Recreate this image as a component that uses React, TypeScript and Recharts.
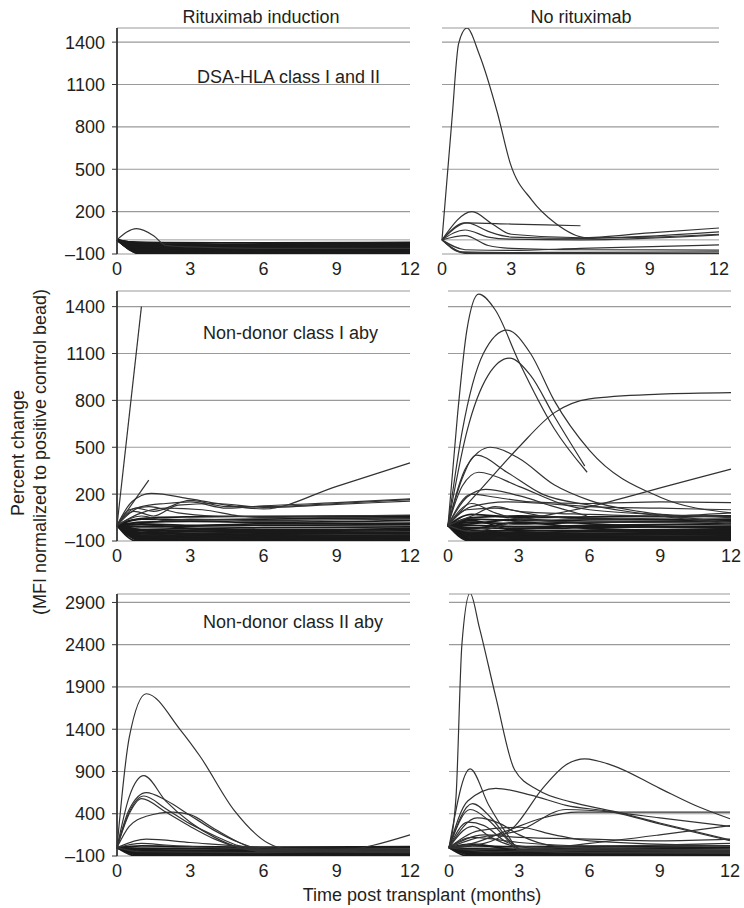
import React from 'react';
import { LineChart, Line, XAxis, YAxis, CartesianGrid, ReferenceLine } from 'recharts';

type Pt = [number, number];

const monthTicks = [0, 3, 6, 9, 12];
const ticksClassI = [-100, 200, 500, 800, 1100, 1400];
const ticksClassII = [-100, 400, 900, 1400, 1900, 2400, 2900];

// DSA-HLA class I and II, rituximab induction
const dsaRitux: Pt[][] = [
  [[0, 0], [0.8, 80], [1.5, 30], [2, -40], [3, -50], [6, -60], [12, -60]],
];
const dsaRituxBand: Pt[][] = [
  [[0, 0], [1, -30], [3, -35], [6, -30], [12, -25]],
  [[0, 0], [1, -50], [3, -45], [6, -50], [12, -40]],
  [[0, 0], [1, -60], [3, -55], [6, -60], [12, -55]],
  [[0, 0], [1, -70], [3, -65], [6, -70], [12, -65]],
  [[0, 0], [1, -80], [3, -75], [6, -75], [12, -70]],
  [[0, 0], [1, -90], [3, -85], [6, -85], [12, -80]],
  [[0, 0], [1, -95], [3, -92], [6, -95], [12, -90]],
  [[0, 0], [1, -98], [3, -98], [6, -97], [12, -96]],
  [[0, 0], [1, -85], [3, -90], [6, -80], [12, -85]],
  [[0, 0], [1, -75], [3, -80], [6, -88], [12, -92]],
  [[0, 0], [1, -65], [3, -70], [6, -78], [12, -75]],
  [[0, 0], [1, -55], [3, -62], [6, -65], [12, -68]],
  [[0, 0], [1, -45], [3, -52], [6, -55], [12, -50]],
  [[0, 0], [1, -40], [3, -40], [6, -42], [12, -45]],
  [[0, 0], [0.7, -20], [2, -30], [6, -35], [12, -30]],
  [[0, 0], [1, -100], [3, -100], [6, -100], [12, -100]],
  [[0, 0], [1, -88], [3, -94], [6, -92], [12, -98]],
  [[0, 0], [1, -72], [3, -86], [6, -90], [12, -88]],
  [[0, 0], [1, -62], [3, -78], [6, -82], [12, -78]],
  [[0, 0], [1, -92], [3, -70], [6, -66], [12, -60]],
  [[0, 0], [0.6, -15], [2, -20], [6, -22], [12, -18]],
  [[0, 0], [1, -35], [3, -28], [6, -45], [12, -35]],
];

// DSA-HLA class I and II, no rituximab
const dsaNoRitux: Pt[][] = [
  [[0, 0], [0.43, 850], [0.72, 1390], [1.08, 1500], [1.6, 1320], [2.4, 900], [2.95, 545], [3.9, 280], [4.9, 120], [6.3, 15], [9, 20], [12, 40]],
  [[0, 0], [1.3, 200], [2.2, 110], [3, 40], [6, 15], [9, 50], [12, 84]],
  [[0, 0], [1, 120], [3, 112], [6, 100]],
  [[0, 0], [1.1, 120], [2, 60], [3, 20], [6, 10], [12, 56]],
  [[0, 0], [1, 70], [2, 20], [3, 5], [6, 0], [12, 35]],
  [[0, 0], [1, 30], [2, -40], [3, -60], [6, -70], [12, -72]],
  [[0, 0], [1, -70], [3, -75], [6, -60], [12, -36]],
  [[0, 0], [1, -90], [3, -95], [6, -95], [12, -95]],
  [[0, 0], [0.8, -85], [3, -90], [6, -88], [12, -85]],
  [[0, 0], [1, -95], [3, -98], [6, -99], [12, -99]],
];

// Non-donor class I antibody, rituximab induction
const c1Ritux: Pt[][] = [
  [[0, 0], [1, 1400]],
  [[0, 0], [1.3, 290]],
  [[0, 0], [0.6, 150], [1.4, 205], [3, 170], [4.5, 130], [6, 105], [9, 250], [12, 400]],
  [[0, 0], [0.8, 110], [1.5, 90], [3, 160], [4.5, 120], [6, 120], [9, 140], [12, 165]],
  [[0, 0], [1, 120], [2, 140], [3, 150], [4.5, 110], [6, 125], [9, 145], [12, 170]],
  [[0, 0], [0.7, 90], [1.5, 60], [2.5, 130], [4, 140], [6, 115], [9, 135], [12, 155]],
  [[0, 0], [1, 80], [2, 110], [3.5, 100], [5, 60], [6, 50], [9, 60], [12, 65]],
  [[0, 0], [0.5, 100], [1.3, 120], [2.5, 80], [4, 60], [6, 55], [9, 50], [12, 45]],
  [[0, 0], [1, 60], [2, 30], [3, 40], [6, 30], [9, 35], [12, 40]],
];
const c1RituxBand: Pt[][] = [
  [[0, 0], [1, 40], [3, 35], [6, 40], [12, 50]],
  [[0, 0], [1, 20], [3, 25], [6, 20], [12, 30]],
  [[0, 0], [1, 10], [3, 0], [6, 10], [12, 15]],
  [[0, 0], [1, -10], [3, -5], [6, 0], [12, 5]],
  [[0, 0], [1, -25], [3, -20], [6, -15], [12, -10]],
  [[0, 0], [1, -35], [3, -30], [6, -28], [12, -25]],
  [[0, 0], [1, -45], [3, -40], [6, -38], [12, -35]],
  [[0, 0], [1, -55], [3, -50], [6, -48], [12, -45]],
  [[0, 0], [1, -62], [3, -60], [6, -55], [12, -55]],
  [[0, 0], [1, -70], [3, -68], [6, -65], [12, -62]],
  [[0, 0], [1, -78], [3, -75], [6, -72], [12, -70]],
  [[0, 0], [1, -85], [3, -82], [6, -80], [12, -78]],
  [[0, 0], [1, -90], [3, -88], [6, -86], [12, -85]],
  [[0, 0], [1, -95], [3, -93], [6, -92], [12, -90]],
  [[0, 0], [1, -99], [3, -98], [6, -97], [12, -96]],
  [[0, 0], [0.8, -100], [3, -100], [6, -100], [12, -100]],
  [[0, 0], [1, -50], [3, -70], [6, -60], [12, -80]],
  [[0, 0], [1, -30], [3, -55], [6, -75], [12, -65]],
  [[0, 0], [1, -80], [3, -60], [6, -45], [12, -50]],
  [[0, 0], [1, 5], [3, -20], [6, -35], [12, -20]],
  [[0, 0], [1, -92], [3, -80], [6, -90], [12, -95]],
  [[0, 0], [1, -65], [3, -85], [6, -95], [12, -92]],
  [[0, 0], [0.5, 30], [1.5, 50], [3, 55], [6, 58], [12, 60]],
];

// Non-donor class I antibody, no rituximab
const c1NoRitux: Pt[][] = [
  [[0, 0], [0.4, 700], [0.8, 1250], [1.3, 1480], [2, 1380], [3, 1050], [4.5, 620], [5.9, 340]],
  [[0, 0], [0.6, 600], [1.5, 1100], [2.5, 1250], [3.5, 1100], [4.5, 800], [6, 480], [9, 180], [12, 80]],
  [[0, 0], [0.8, 600], [1.7, 960], [2.6, 1070], [3.5, 960], [4.5, 700], [5.8, 380]],
  [[0, 0], [1.5, 250], [3, 500], [4.5, 720], [6, 810], [9, 840], [12, 850]],
  [[0, 0], [1, -40], [3, 30], [6, 120], [9, 240], [12, 360]],
  [[0, 0], [0.8, 380], [1.8, 500], [3, 430], [4.5, 260], [6, 160], [9, 70], [12, 20]],
  [[0, 0], [0.6, 300], [1.2, 450], [2.5, 340], [4, 200], [6, 130], [9, 60], [12, 10]],
  [[0, 0], [0.6, 250], [1.3, 340], [3, 250], [5, 130], [6, 100], [9, 70], [12, 50]],
  [[0, 0], [0.8, 180], [1.6, 230], [3, 190], [4.5, 120], [5.9, 60]],
  [[0, 0], [1, 200], [2, 180], [3.5, 150], [6, 140], [9, 150], [12, 145]],
  [[0, 0], [1, 120], [2.5, 150], [4, 140], [6, 120], [9, 110], [12, 100]],
  [[0, 0], [1, 140], [2, 80], [3, 40], [6, 20], [12, 20]],
  [[0, 0], [0.8, 100], [2, 110], [4, 60], [6, 40], [12, 60]],
  [[0, 0], [1, 60], [2, 120], [3, 90], [6, 70], [9, 60], [12, 80]],
];
const c1NoRituxBand: Pt[][] = [
  [[0, 0], [1, 70], [3, 50], [6, 55], [12, 60]],
  [[0, 0], [1, 40], [3, 30], [6, 35], [12, 40]],
  [[0, 0], [1, 20], [3, 10], [6, 20], [12, 25]],
  [[0, 0], [1, 0], [3, -10], [6, 0], [12, 10]],
  [[0, 0], [1, -15], [3, -20], [6, -15], [12, -5]],
  [[0, 0], [1, -30], [3, -35], [6, -30], [12, -25]],
  [[0, 0], [1, -40], [3, -45], [6, -40], [12, -35]],
  [[0, 0], [1, -50], [3, -52], [6, -50], [12, -45]],
  [[0, 0], [1, -60], [3, -58], [6, -55], [12, -55]],
  [[0, 0], [1, -68], [3, -65], [6, -62], [12, -60]],
  [[0, 0], [1, -75], [3, -72], [6, -70], [12, -68]],
  [[0, 0], [1, -82], [3, -80], [6, -78], [12, -75]],
  [[0, 0], [1, -88], [3, -86], [6, -85], [12, -82]],
  [[0, 0], [1, -94], [3, -92], [6, -90], [12, -88]],
  [[0, 0], [0.9, -99], [3, -98], [6, -97], [12, -95]],
  [[0, 0], [1, -55], [3, -75], [6, -85], [12, -70]],
  [[0, 0], [1, 30], [3, -40], [6, -60], [12, -50]],
  [[0, 0], [1, -20], [3, 20], [6, -20], [12, -40]],
  [[0, 0], [1, 50], [3, 60], [6, 45], [12, 30]],
  [[0, 0], [1, 10], [3, 40], [6, 10], [12, -15]],
  [[0, 0], [1, -45], [3, -25], [6, -5], [12, -20]],
  [[0, 0], [1, -85], [3, -60], [6, -35], [12, -60]],
  [[0, 0], [1, -100], [3, -100], [6, -100], [12, -100]],
];

// Non-donor class II antibody, rituximab induction
const c2Ritux: Pt[][] = [
  [[0, 0], [0.5, 1300], [1.2, 1820], [2.6, 1390], [3.4, 1080], [4.8, 440], [6.2, 50], [7, -20], [9, -30], [12, -30]],
  [[0, 0], [0.5, 600], [1.1, 850], [2, 550], [3, 300], [4, 120], [5, 0], [6, -40], [12, -50]],
  [[0, 0], [0.5, 450], [1.2, 650], [2, 560], [3, 380], [4, 200], [5, 60], [6, -20], [12, -40]],
  [[0, 0], [0.5, 420], [1.1, 610], [2, 460], [3, 280], [4, 140], [5, 20], [6, -30], [12, -50]],
  [[0, 0], [0.5, 400], [1, 580], [2, 420], [3, 250], [4, 100], [5, 0], [6, -50], [12, -60]],
  [[0, 0], [0.5, 250], [1.2, 370], [2.3, 420], [3, 390], [4, 220], [5, 60], [6, -40], [12, -55]],
  [[0, 0], [1, -50], [6, -60], [9, -40], [12, 150]],
  [[0, 0], [1.2, 100], [3, 60], [6, 0], [9, -20], [12, -30]],
  [[0, 0], [1, 50], [2, 30], [4, 0], [6, -20], [12, -20]],
];
const c2RituxBand: Pt[][] = [
  [[0, 0], [1, 20], [3, 10], [6, 5], [12, 10]],
  [[0, 0], [1, -10], [3, -15], [6, -10], [12, -5]],
  [[0, 0], [1, -30], [3, -35], [6, -30], [12, -25]],
  [[0, 0], [1, -45], [3, -50], [6, -45], [12, -40]],
  [[0, 0], [1, -60], [3, -62], [6, -58], [12, -55]],
  [[0, 0], [1, -70], [3, -72], [6, -70], [12, -68]],
  [[0, 0], [1, -80], [3, -82], [6, -80], [12, -78]],
  [[0, 0], [1, -88], [3, -90], [6, -88], [12, -86]],
  [[0, 0], [1, -95], [3, -96], [6, -95], [12, -93]],
  [[0, 0], [0.8, -100], [3, -100], [6, -99], [12, -98]],
  [[0, 0], [1, -65], [3, -85], [6, -92], [12, -90]],
  [[0, 0], [1, -85], [3, -55], [6, -65], [12, -75]],
  [[0, 0], [1, -20], [3, -40], [6, -20], [12, -35]],
];

// Non-donor class II antibody, no rituximab
const c2NoRitux: Pt[][] = [
  [[0, 0], [0.3, 600], [0.55, 2400], [0.9, 3010], [1.3, 2600], [2, 1780], [2.8, 920], [3.8, 680], [5.2, 540], [7, 430], [9, 290], [12, 90]],
  [[0, 0], [1.5, 50], [2.8, 250], [4, 700], [5, 980], [5.8, 1050], [7, 970], [9, 700], [10.5, 500], [12, 340]],
  [[0, 0], [0.9, 930], [1.7, 500], [2.5, 150], [3, -20], [6, -60], [12, -70]],
  [[0, 0], [0.8, 550], [2, 700], [3.5, 620], [5, 500], [7, 420], [9, 280], [12, 80]],
  [[0, 0], [1, 50], [2.5, 200], [4, 350], [5.5, 420], [9, 420], [12, 420]],
  [[0, 0], [1, 100], [3, 200], [5, 450], [7, 420], [9, 350], [12, 250]],
  [[0, 0], [1, 520], [1.8, 350], [2.6, 80], [3.2, -40], [6, -60], [12, -60]],
  [[0, 0], [0.9, 450], [1.7, 320], [2.4, 120], [3, -30], [12, -50]],
  [[0, 0], [1.2, 350], [2.2, 280], [3, 150], [4.5, 20], [12, -40]],
  [[0, 0], [0.8, 300], [1.5, 260], [2.5, 60], [4, -20], [12, -40]],
  [[0, 0], [1, 250], [1.8, 120], [2.8, 20], [6, -10], [12, -30]],
  [[0, 0], [1.3, 200], [3, 240], [4.5, 150], [6, 80], [12, 20]],
  [[0, 0], [2, -50], [6, 50], [9, 150], [12, 260]],
  [[0, 0], [1.5, 150], [3, 120], [6, 100], [9, 80], [12, 100]],
  [[0, 0], [1, 120], [3, 60], [6, 20], [12, 50]],
];
const c2NoRituxBand: Pt[][] = [
  [[0, 0], [1, 20], [3, 10], [6, 15], [12, 20]],
  [[0, 0], [1, -15], [3, -20], [6, -10], [12, -5]],
  [[0, 0], [1, -35], [3, -40], [6, -35], [12, -30]],
  [[0, 0], [1, -50], [3, -55], [6, -50], [12, -45]],
  [[0, 0], [1, -65], [3, -65], [6, -62], [12, -60]],
  [[0, 0], [1, -75], [3, -78], [6, -75], [12, -72]],
  [[0, 0], [1, -85], [3, -86], [6, -84], [12, -82]],
  [[0, 0], [1, -92], [3, -94], [6, -92], [12, -90]],
  [[0, 0], [0.8, -100], [3, -99], [6, -98], [12, -97]],
  [[0, 0], [1, -60], [3, -88], [6, -95], [12, -85]],
  [[0, 0], [1, 40], [3, -30], [6, -20], [12, 0]],
];

const FONT = '"Liberation Sans", Arial, sans-serif';
const TEXT = '#231f20';
const LINE = '#333';
const BAND = '#1a1a1a';
const GRID = '#9a9a9a';

function toRows(series: Pt[][]) {
  const months = Array.from(new Set(series.flatMap((s) => s.map((p) => p[0])))).sort((a, b) => a - b);
  return months.map((m) => {
    const row: Record<string, number | null> = { m };
    series.forEach((s, i) => {
      const p = s.find((q) => q[0] === m);
      row['s' + i] = p ? p[1] : null;
    });
    return row;
  });
}

const fmtY = (v: number) => (v < 0 ? '\u2013' + Math.abs(v) : String(v));

interface PanelProps {
  series: Pt[][];
  band: Pt[][];
  ticks: number[];
  top: number;
  x0: number;
  x1: number;
  y0: number;
  y1: number;
  showY: boolean;
}

function Panel({ series, band, ticks, top, x0, x1, y0, y1, showY }: PanelProps) {
  const yw = showY ? 70 : 0;
  const ml = showY ? 0 : 5;
  const mt = 10;
  const xh = 30;
  const w = x1 - x0 + yw + ml + 10;
  const h = y1 - y0 + mt + xh;
  const all = [...band, ...series];
  const rows = toRows(all);
  return (
    <div style={{ position: 'absolute', left: x0 - yw - ml, top: y0 - mt }}>
      <LineChart width={w} height={h} data={rows} margin={{ top: mt, right: 10, bottom: 0, left: ml }}>
        <CartesianGrid vertical={false} stroke={GRID} strokeWidth={1.2} />
        <XAxis
          dataKey="m"
          type="number"
          domain={[0, 12]}
          ticks={monthTicks}
          axisLine={false}
          tickLine={false}
          tickMargin={2}
          height={xh}
          interval={0}
          tick={{ fontSize: 18, fill: TEXT, fontFamily: FONT }}
        />
        <YAxis
          type="number"
          domain={[-100, top]}
          ticks={ticks}
          allowDataOverflow
          hide={!showY}
          width={yw}
          interval={0}
          tickFormatter={fmtY}
          axisLine={{ stroke: '#333', strokeWidth: 1.8 }}
          tickLine={{ stroke: '#333' }}
          tickSize={5}
          tickMargin={7}
          tick={{ fontSize: 18, fill: TEXT, fontFamily: FONT }}
        />
        <ReferenceLine y={0} stroke={GRID} strokeWidth={1} />
        {all.map((_, i) => (
          <Line
            key={i}
            dataKey={'s' + i}
            type="monotone"
            stroke={i < band.length ? BAND : LINE}
            strokeWidth={i < band.length ? 1.8 : 1.2}
            dot={false}
            connectNulls
            isAnimationActive={false}
          />
        ))}
      </LineChart>
    </div>
  );
}

export default function App() {
  const txt = { fontFamily: FONT, fontSize: 18, fill: TEXT } as const;
  return (
    <div style={{ position: 'absolute', left: 0, top: 0, width: 744, height: 908, background: '#fff' }}>
      <Panel series={dsaRitux} band={dsaRituxBand} ticks={ticksClassI} top={1500} x0={117} x1={410} y0={28} y1={254} showY />
      <Panel series={dsaNoRitux} band={[]} ticks={ticksClassI} top={1500} x0={442} x1={719} y0={28} y1={254} showY={false} />
      <Panel series={c1Ritux} band={c1RituxBand} ticks={ticksClassI} top={1500} x0={117} x1={410} y0={291} y1={541} showY />
      <Panel series={c1NoRitux} band={c1NoRituxBand} ticks={ticksClassI} top={1500} x0={448} x1={731} y0={291} y1={541} showY={false} />
      <Panel series={c2Ritux} band={c2RituxBand} ticks={ticksClassII} top={3000} x0={117} x1={410} y0={594} y1={856} showY />
      <Panel series={c2NoRitux} band={c2NoRituxBand} ticks={ticksClassII} top={3000} x0={449} x1={730} y0={594} y1={856} showY={false} />
      <svg width={744} height={908} style={{ position: 'absolute', left: 0, top: 0, pointerEvents: 'none' }}>
        <text x={261} y={17} textAnchor="middle" dominantBaseline="central" {...txt}>Rituximab induction</text>
        <text x={581} y={17} textAnchor="middle" dominantBaseline="central" {...txt}>No rituximab</text>
        <text x={197} y={77} dominantBaseline="central" {...txt}>DSA-HLA class I and II</text>
        <text x={203} y={333} dominantBaseline="central" {...txt}>Non-donor class I aby</text>
        <text x={203} y={622} dominantBaseline="central" {...txt}>Non-donor class II aby</text>
        <text x={422} y={895} textAnchor="middle" dominantBaseline="central" {...txt}>Time post transplant (months)</text>
        <text transform="translate(18,453) rotate(-90)" textAnchor="middle" dominantBaseline="central" {...txt}>Percent change</text>
        <text transform="translate(40,452) rotate(-90)" textAnchor="middle" dominantBaseline="central" {...txt}>(MFI normalized to positive control bead)</text>
      </svg>
    </div>
  );
}
